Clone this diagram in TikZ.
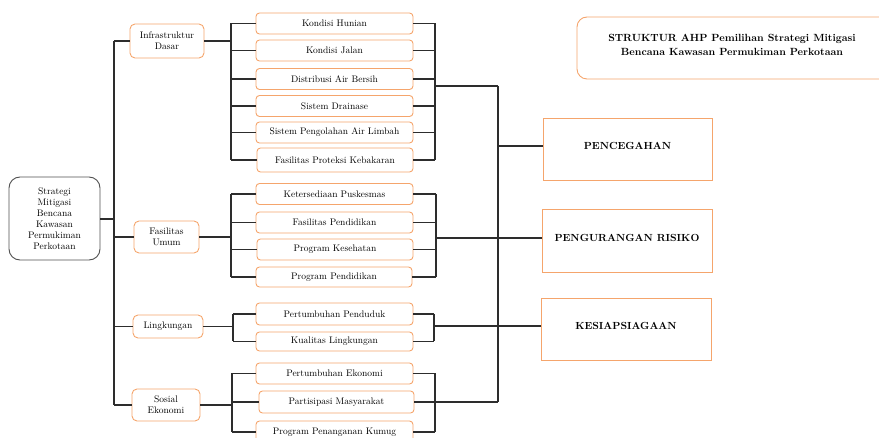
\documentclass[tikz,border=0pt]{standalone}
\usetikzlibrary{calc}
\definecolor{ora}{RGB}{245,165,108}
\definecolor{lin}{RGB}{45,45,45}
\definecolor{rootb}{RGB}{80,80,80}
\begin{document}
\begin{tikzpicture}[x=1pt,y=-1pt,
  leaf/.style={draw=ora,line width=0.9pt,rounded corners=3.5pt,minimum width=157pt,minimum height=21pt,inner sep=0pt,font=\fontsize{9.5}{11}\selectfont},
  cat/.style={draw=ora,line width=0.9pt,rounded corners=5pt,inner sep=0pt,align=center,font=\fontsize{9.5}{11}\selectfont},
  crit/.style={draw=ora,line width=0.9pt,minimum width=170pt,minimum height=62pt,inner sep=0pt,text height=7.4pt,text depth=6pt,font=\fontsize{10.3}{12}\selectfont\bfseries},
  conn/.style={draw=lin,line width=1.3pt}]
\useasboundingbox (0,0) rectangle (879,438);
\begin{scope}
\clip (0,0) rectangle (879,438);
% title
\draw[draw=ora,line width=0.9pt,rounded corners=10pt] (577,17) rectangle (895,79);
\node[inner sep=0pt,align=center,font=\fontsize{10.4}{14}\selectfont\bfseries] (title) at (732,45) {STRUKTUR AHP Pemilihan Strategi Mitigasi\\Bencana Kawasan Permukiman Perkotaan};
% root
\node[draw=rootb,line width=0.9pt,rounded corners=11pt,minimum width=91pt,minimum height=83pt,inner sep=0pt,align=center,font=\fontsize{9.5}{11}\selectfont] (root) at (54.5,218.5) {Strategi\\Mitigasi\\Bencana\\Kawasan\\Permukiman\\Perkotaan};
% categories
\node[cat,minimum width=74pt,minimum height=34pt] (ID) at (167,41) {Infrastruktur\\Dasar};
\node[cat,minimum width=65pt,minimum height=32pt] (FU) at (166.5,237) {Fasilitas\\Umum};
\node[cat,minimum width=70pt,minimum height=23pt] (LK) at (168,326.5) {Lingkungan};
\node[cat,minimum width=68pt,minimum height=32pt] (SE) at (166,405) {Sosial\\Ekonomi};
% leaves
\node[leaf] (KH) at (334.5,23.5) {Kondisi Hunian};
\node[leaf] (KJ) at (334.5,50.5) {Kondisi Jalan};
\node[leaf] (DAB) at (334.5,79) {Distribusi Air Bersih};
\node[leaf] (SD) at (334.5,106) {Sistem Drainase};
\node[leaf] (SPAL) at (334.5,132.5) {Sistem Pengolahan Air Limbah};
\node[leaf,minimum width=156pt,minimum height=24pt] (FPK) at (335,160) {Fasilitas Proteksi Kebakaran};
\node[leaf] (KP) at (334.5,194) {Ketersediaan Puskesmas};
\node[leaf] (FP) at (334.5,222.5) {Fasilitas Pendidikan};
\node[leaf,minimum width=156pt] (PK) at (335,249.5) {Program Kesehatan};
\node[leaf,minimum width=156pt,minimum height=20pt] (PP) at (334,277) {Program Pendidikan};
\node[leaf,minimum height=22pt] (PPD) at (334.5,314) {Pertumbuhan Penduduk};
\node[leaf,minimum height=19pt] (KL) at (334.5,341.5) {Kualitas Lingkungan};
\node[leaf] (PE) at (334.5,373.5) {Pertumbuhan Ekonomi};
\node[leaf,minimum width=155pt,minimum height=22pt] (PM) at (336.5,402) {Partisipasi Masyarakat};
\node[leaf,minimum height=22pt] (PPK) at (334.5,432) {Program Penanganan Kumug};
% criteria
\node[crit,minimum width=169pt] (PC) at (627.5,149) {PENCEGAHAN};
\node[crit,minimum height=63pt] (PR) at (627,240.5) {PENGURANGAN RISIKO};
\node[crit] (KS) at (626,329) {KESIAPSIAGAAN};
% coordinates of spines
\coordinate (sp) at (114,0);
\coordinate (idL) at (231,0);
\coordinate (idR) at (435,0);
\coordinate (fuL) at (231,0);
\coordinate (fuR) at (436,0);
\coordinate (lkL) at (233,0);
\coordinate (lkR) at (434,0);
\coordinate (seL) at (232,0);
\coordinate (seR) at (435,0);
\coordinate (big) at (498,0);
\coordinate (idO) at (435,86);
% root to categories
\draw[conn] (root.east |- 0,219) -- (sp |- 0,219);
\draw[conn] (ID.west -| sp) -- (SE.west -| sp);
\foreach \n in {ID,FU,LK,SE} \draw[conn] (\n.west -| sp) -- (\n.west);
% Infrastruktur Dasar group
\draw[conn] (ID.east) -- (ID.east -| idL);
\draw[conn] (KH.west -| idL) -- (FPK.west -| idL);
\foreach \n in {KH,KJ,DAB,SD,SPAL,FPK} \draw[conn] (\n.west) -- (\n.west -| idL);
\draw[conn] (KH.east -| idR) -- (FPK.east -| idR);
\foreach \n in {KH,KJ,DAB,SD,SPAL,FPK} \draw[conn] (\n.east) -- (\n.east -| idR);
\draw[conn] (idO) -- (idO -| big);
% Fasilitas Umum group
\draw[conn] (FU.east) -- (FU.east -| fuL);
\draw[conn] (KP.west -| fuL) -- (PP.west -| fuL);
\foreach \n in {KP,FP,PK,PP} \draw[conn] (\n.west) -- (\n.west -| fuL);
\draw[conn] (KP.east -| fuR) -- (PP.east -| fuR);
\foreach \n in {KP,FP,PK,PP} \draw[conn] (\n.east) -- (\n.east -| fuR);
\draw[conn] ($(PR.west -| fuR)+(0,-2.5)$) -- ($(PR.west)+(0,-2.5)$);
% Lingkungan group
\draw[conn] (LK.east) -- (LK.east -| lkL);
\draw[conn] (PPD.west -| lkL) -- (KL.west -| lkL);
\foreach \n in {PPD,KL} \draw[conn] (\n.west) -- (\n.west -| lkL);
\draw[conn] (PPD.east -| lkR) -- (KL.east -| lkR);
\foreach \n in {PPD,KL} \draw[conn] (\n.east) -- (\n.east -| lkR);
\draw[conn] ($(KS.west -| lkR)+(0,-3)$) -- ($(KS.west)+(0,-3)$);
% Sosial Ekonomi group
\draw[conn] (SE.east) -- (SE.east -| seL);
\draw[conn] (PE.west -| seL) -- (PPK.west -| seL);
\foreach \n in {PE,PM,PPK} \draw[conn] (\n.west) -- (\n.west -| seL);
\draw[conn] (PE.east -| seR) -- (PPK.east -| seR);
\foreach \n in {PE,PPK} \draw[conn] (\n.east) -- (\n.east -| seR);
\draw[conn] (PM.east) -- (PM.east -| big);
% big spine
\draw[conn] (idO -| big) -- (PM.east -| big);
\draw[conn] ($(PC.west -| big)+(0,-3)$) -- ($(PC.west)+(0,-3)$);
\end{scope}
\end{tikzpicture}
\end{document}
